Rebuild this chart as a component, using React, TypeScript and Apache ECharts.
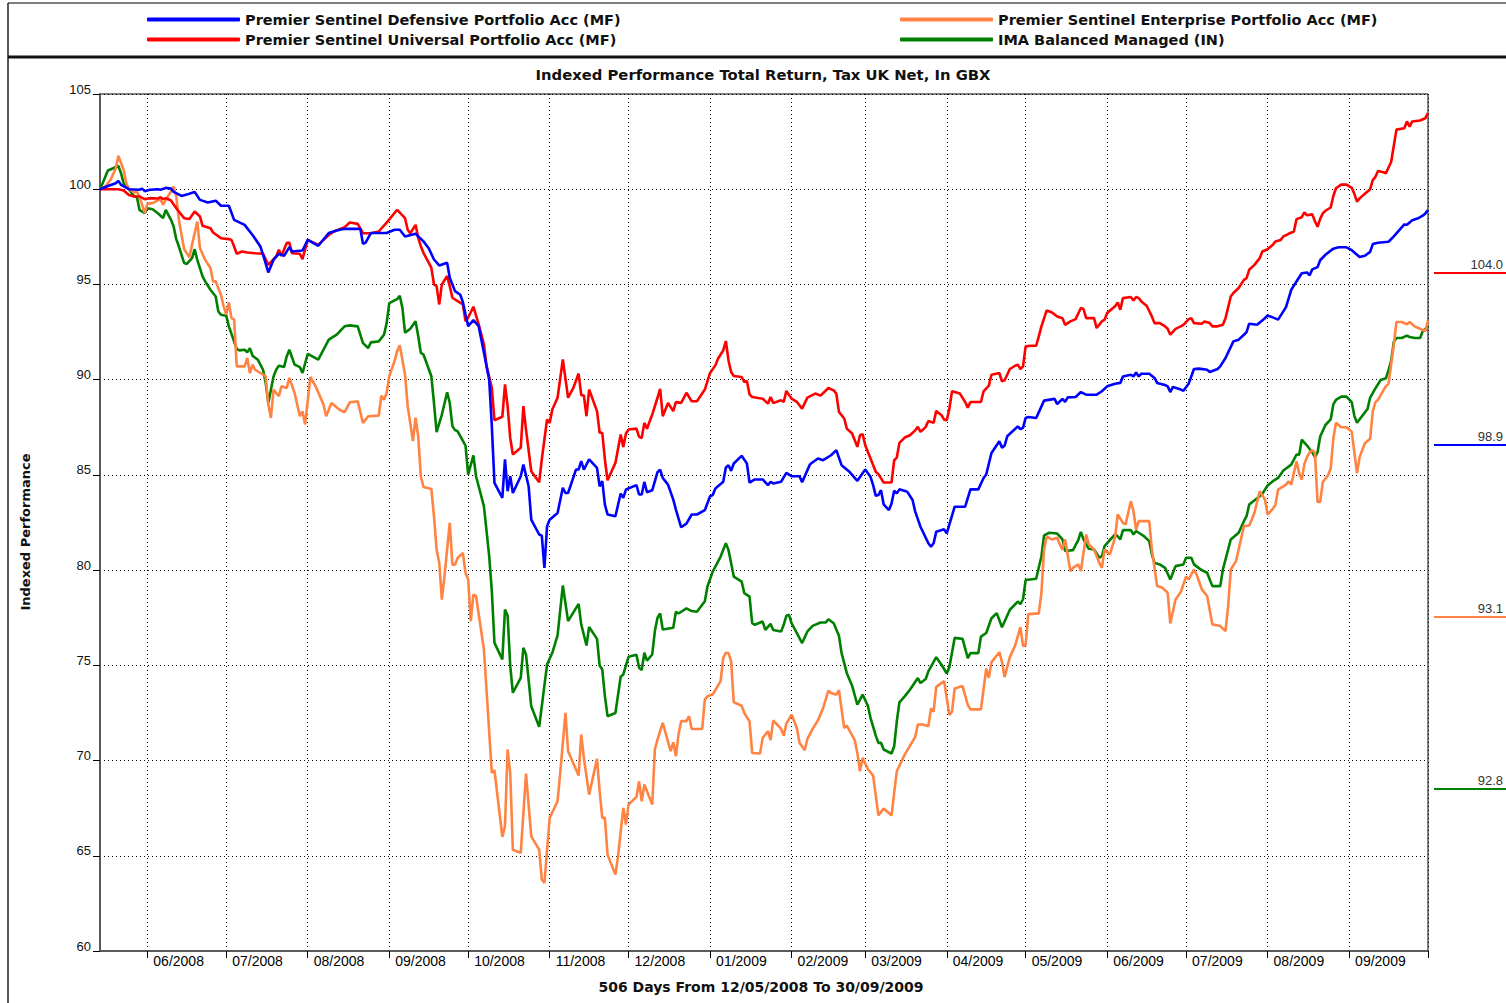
import React, { useEffect, useRef } from "react";
import * as echarts from "echarts";

// Day numbers are counted from 12/05/2008 (day 0).
const START_YEAR = 2008;
const START_MONTH = 4;
const START_DAY = 12;
const AXIS_FIRST_DAY = 2;
const AXIS_LAST_DAY = 507;
const Y_MIN = 60;
const Y_MAX = 105;
const Y_STEP = 5;

const TITLE = "Indexed Performance Total Return, Tax UK Net, In GBX";
const X_NAME = "506 Days From 12/05/2008 To 30/09/2009";
const Y_NAME = "Indexed Performance";

const NAME_DEFENSIVE = "Premier Sentinel Defensive Portfolio Acc (MF)";
const NAME_ENTERPRISE = "Premier Sentinel Enterprise Portfolio Acc (MF)";
const NAME_UNIVERSAL = "Premier Sentinel Universal Portfolio Acc (MF)";
const NAME_IMA = "IMA Balanced Managed (IN)";

const COLOR_DEFENSIVE = "#0000FF";
const COLOR_ENTERPRISE = "#FF8444";
const COLOR_UNIVERSAL = "#FF0000";
const COLOR_IMA = "#008000";

const defensive: [number, number][] = [[2,100.0],[5,100.17],[8,100.31],[9,100.44],[10,100.23],[13,100.0],[17,99.97],[18,100.03],[19,99.9],[21,99.97],[24,100.0],[25,99.97],[27,100.07],[29,100.03],[30,99.86],[33,99.65],[36,99.76],[38,99.86],[40,99.44],[43,99.3],[46,99.4],[48,99.13],[51,99.13],[53,98.39],[57,98.13],[60,97.6],[63,96.99],[64,96.56],[66,95.63],[68,96.3],[70,96.61],[72,96.5],[74,96.96],[75,96.73],[79,96.78],[81,97.34],[85,97.03],[89,97.7],[92,97.83],[95,97.92],[101,97.92],[102,97.13],[103,97.2],[105,97.7],[111,97.7],[114,97.87],[116,97.87],[118,97.52],[122,97.66],[125,97.26],[127,96.9],[129,96.31],[131,96.0],[134,96.14],[135,95.35],[137,94.65],[139,94.46],[140,94.07],[141,93.42],[142,92.81],[144,93.13],[146,92.81],[148,91.41],[150,90.0],[151,87.56],[152,84.58],[155,83.79],[156,85.81],[157,84.14],[158,84.93],[159,84.05],[162,84.93],[163,85.54],[165,84.4],[166,82.65],[169,81.87],[170,81.81],[171,80.11],[172,82.3],[173,82.65],[176,83.0],[178,84.32],[179,84.05],[180,84.05],[183,85.28],[184,85.28],[185,85.72],[186,85.28],[188,85.81],[191,85.37],[192,84.4],[193,84.67],[194,83.44],[195,82.92],[198,82.83],[200,84.02],[201,83.79],[202,84.23],[206,84.46],[207,83.97],[208,83.97],[209,84.63],[210,84.09],[212,84.19],[214,85.14],[215,85.28],[216,84.84],[218,84.49],[220,83.7],[221,83.18],[223,82.25],[225,82.44],[227,82.92],[229,82.92],[232,83.15],[234,83.88],[235,83.94],[236,84.29],[239,84.64],[240,85.39],[241,85.51],[242,85.21],[243,85.6],[246,86.0],[248,85.6],[249,84.59],[251,84.76],[254,84.76],[256,84.46],[257,84.64],[258,84.55],[261,84.64],[263,85.11],[265,84.93],[268,84.93],[269,84.62],[272,85.56],[275,85.86],[277,85.77],[280,86.03],[282,86.3],[284,85.51],[287,85.16],[290,84.69],[293,85.28],[295,84.9],[296,84.46],[297,83.9],[298,83.94],[299,84.2],[300,83.45],[302,83.15],[303,83.5],[304,84.17],[305,84.03],[306,84.24],[309,84.11],[311,83.68],[312,83.07],[314,82.28],[317,81.41],[318,81.23],[319,81.41],[320,82.02],[323,82.14],[324,81.93],[327,83.33],[331,83.33],[333,84.24],[336,84.24],[338,84.84],[339,85.02],[341,86.15],[344,86.77],[345,86.42],[346,86.54],[347,87.03],[351,87.55],[352,87.41],[353,87.47],[354,87.99],[355,88.04],[358,87.99],[361,88.9],[365,88.99],[366,88.72],[368,88.99],[369,88.83],[370,89.07],[373,89.09],[375,89.35],[377,89.21],[381,89.21],[383,89.39],[385,89.65],[388,89.79],[390,89.83],[391,90.17],[394,90.26],[395,90.17],[396,90.38],[397,90.17],[398,90.31],[401,90.31],[403,90.09],[404,89.83],[407,89.72],[408,89.65],[409,89.35],[410,89.62],[413,89.48],[414,89.42],[416,89.79],[418,90.56],[420,90.58],[423,90.52],[424,90.4],[427,90.56],[428,90.7],[430,91.14],[433,92.01],[435,92.1],[437,92.36],[438,92.5],[439,92.94],[442,92.88],[445,93.23],[446,93.37],[448,93.27],[450,93.15],[453,93.81],[455,94.72],[459,95.59],[461,95.63],[462,95.48],[463,95.79],[465,95.91],[466,96.27],[468,96.56],[471,96.88],[473,96.95],[476,96.95],[478,96.8],[481,96.44],[483,96.51],[485,96.71],[486,97.12],[488,97.19],[492,97.24],[494,97.52],[496,97.84],[498,98.15],[499,98.13],[501,98.37],[503,98.46],[505,98.61],[506,98.73],[507,98.9]];

const universal: [number, number][] = [[2,100],[5,100],[9,100],[11,99.93],[13,99.7],[15,99.62],[17,99.62],[19,99.48],[21,99.53],[24,99.51],[25,99.58],[26,99.48],[27,99.53],[29,99.41],[31,99.0],[34,98.48],[36,98.44],[38,98.83],[40,98.57],[41,98.08],[44,97.95],[45,97.73],[48,97.43],[51,97.38],[52,97.34],[53,96.99],[54,96.61],[56,96.73],[58,96.68],[61,96.64],[64,96.61],[66,96.03],[69,96.47],[70,96.82],[71,96.5],[73,97.17],[74,97.2],[75,96.64],[78,96.61],[79,96.33],[81,97.34],[85,97.08],[89,97.6],[91,97.78],[95,98.01],[97,98.25],[100,98.18],[102,97.69],[105,97.69],[108,97.78],[111,98.25],[115,98.92],[118,98.48],[119,97.87],[120,97.69],[122,98.13],[123,97.45],[124,97.01],[125,96.66],[128,95.88],[129,95.0],[130,94.91],[131,93.95],[132,95.0],[134,95.44],[135,94.91],[136,94.3],[138,94.12],[140,93.95],[141,93.07],[142,93.25],[144,93.83],[146,92.9],[148,91.85],[149,90.71],[151,89.57],[152,87.87],[155,88.05],[156,89.75],[157,88.61],[158,86.94],[159,86.07],[162,86.42],[163,88.61],[164,87.38],[166,85.19],[169,84.61],[170,85.81],[172,87.91],[173,87.73],[174,88.43],[176,89.05],[178,91.06],[180,89.05],[182,89.57],[184,90.32],[185,89.19],[186,89.17],[187,88.08],[188,89.48],[191,88.35],[192,87.21],[193,87.21],[194,85.81],[195,84.72],[198,85.63],[200,87.12],[201,86.47],[202,87.17],[203,87.38],[206,87.43],[207,87.0],[208,86.94],[209,87.73],[210,87.42],[212,88.17],[214,89.05],[215,89.52],[216,88.08],[218,88.78],[220,88.35],[221,88.82],[223,88.78],[225,89.31],[227,88.87],[229,88.87],[232,89.48],[233,89.92],[234,90.35],[236,90.75],[237,91.1],[239,91.54],[240,92.03],[241,91.01],[242,90.4],[243,90.19],[246,90.14],[247,89.88],[248,89.93],[249,89.23],[250,89.09],[254,89.0],[256,88.74],[257,89.09],[258,88.78],[261,88.92],[262,88.83],[263,89.41],[265,89.0],[267,88.83],[269,88.48],[271,89.06],[274,89.27],[276,89.16],[279,89.56],[281,89.44],[282,89.27],[283,88.31],[285,87.96],[286,87.43],[288,87.17],[290,86.47],[291,87.08],[292,87.14],[293,86.56],[295,85.86],[297,85.16],[298,85.04],[300,84.6],[303,84.6],[304,85.77],[305,85.91],[306,86.68],[308,86.96],[310,87.08],[312,87.34],[313,87.52],[314,87.26],[315,87.38],[316,87.52],[317,87.83],[319,87.73],[320,88.36],[322,88.13],[323,87.9],[324,87.87],[325,88.48],[326,89.39],[329,89.27],[331,88.83],[332,88.53],[333,88.83],[337,88.83],[338,89.39],[340,89.69],[341,90.26],[344,90.35],[345,89.91],[346,89.97],[348,90.56],[350,90.73],[351,90.79],[352,90.56],[353,90.7],[354,91.75],[356,91.78],[358,91.78],[359,92.27],[360,92.8],[362,93.64],[364,93.53],[366,93.32],[368,93.23],[369,92.88],[371,93.06],[373,93.18],[375,93.76],[376,93.71],[377,93.23],[380,93.23],[381,92.71],[383,93.06],[384,93.15],[385,93.5],[388,93.85],[389,94.06],[390,93.67],[391,94.28],[394,94.34],[395,94.16],[396,94.34],[397,94.28],[398,94.11],[400,93.88],[402,93.32],[403,92.97],[405,92.97],[407,92.8],[408,92.67],[409,92.36],[411,92.67],[413,92.8],[414,92.88],[416,93.18],[417,93.23],[418,92.97],[421,92.94],[422,93.06],[424,92.97],[425,92.8],[427,92.8],[429,92.88],[430,93.23],[432,94.37],[433,94.55],[435,94.81],[437,95.24],[438,95.33],[439,95.77],[441,96.03],[443,96.38],[444,96.73],[446,96.85],[448,97.08],[449,97.26],[451,97.34],[452,97.52],[454,97.66],[456,97.78],[457,98.43],[459,98.53],[460,98.78],[461,98.63],[463,98.68],[464,98.32],[465,98.03],[466,98.44],[467,98.73],[468,98.87],[470,99.04],[471,99.64],[472,100.05],[474,100.24],[476,100.24],[478,100.07],[479,99.76],[480,99.35],[481,99.52],[483,99.76],[485,100.0],[486,100.48],[487,100.65],[488,100.96],[490,100.89],[491,100.84],[493,101.44],[494,102.28],[495,103.13],[498,103.2],[499,103.56],[500,103.29],[501,103.56],[504,103.61],[506,103.73],[507,104.0]];

const enterprise: [number, number][] = [[2,100],[4,100.14],[6,100.49],[8,101.1],[9,101.75],[11,101.01],[12,100.31],[13,100.0],[15,99.83],[16,99.88],[17,99.62],[19,98.74],[20,99.23],[22,99.27],[24,99.41],[25,99.48],[26,99.18],[27,99.44],[29,99.88],[30,100.14],[31,99.62],[32,98.39],[34,96.85],[35,96.64],[36,96.43],[37,97.08],[39,98.3],[40,96.91],[42,96.29],[44,95.86],[45,95.16],[46,95.16],[48,94.46],[49,93.85],[50,93.41],[51,94.06],[52,93.23],[53,93.15],[54,90.7],[57,90.7],[58,91.14],[59,90.35],[60,90.79],[61,90.52],[63,90.35],[65,90.17],[66,88.69],[67,87.99],[68,89.48],[69,89.3],[70,89.13],[71,89.65],[73,89.56],[74,90.09],[76,89.3],[78,88.08],[79,88.34],[80,87.64],[82,90.14],[84,89.65],[87,88.69],[88,88.08],[90,88.78],[93,88.43],[95,88.29],[97,88.81],[100,88.86],[102,87.73],[104,88.08],[108,88.11],[109,89.16],[110,88.95],[111,89.3],[112,90.18],[114,90.97],[115,91.5],[116,91.8],[118,90.27],[119,88.61],[121,86.77],[122,88.0],[123,87.03],[124,84.93],[125,84.37],[128,84.26],[129,82.83],[130,81.08],[131,80.38],[132,78.45],[133,79.68],[135,82.48],[136,80.29],[137,80.29],[138,80.64],[140,80.9],[141,79.85],[142,79.51],[143,77.32],[144,78.72],[145,78.63],[148,75.83],[151,69.35],[152,69.49],[155,65.99],[156,66.55],[157,70.58],[158,69.35],[159,65.32],[162,65.15],[164,69.32],[166,66.02],[169,65.32],[170,63.75],[171,63.57],[173,66.99],[176,67.86],[177,69.35],[179,72.5],[180,70.49],[184,69.21],[185,71.37],[186,70.14],[188,68.21],[191,70.09],[192,68.39],[193,66.99],[194,66.99],[195,65.06],[198,64.01],[199,64.97],[201,67.51],[202,66.64],[203,67.69],[206,68.09],[207,68.91],[208,67.86],[209,68.74],[212,67.69],[213,70.58],[214,71.1],[216,71.98],[219,70.49],[220,70.96],[221,70.23],[222,71.37],[223,72.07],[225,72.07],[226,72.33],[227,71.66],[231,71.66],[232,73.2],[233,73.38],[235,73.47],[238,74.17],[239,75.39],[240,75.66],[241,75.64],[242,75.21],[243,73.06],[246,72.88],[247,72.5],[249,72.06],[250,70.4],[253,70.37],[254,71.19],[256,71.54],[257,71.07],[258,72.11],[261,71.66],[262,71.31],[263,71.94],[265,72.41],[267,71.71],[268,70.93],[270,70.54],[271,71.14],[273,71.66],[275,72.11],[277,72.76],[279,73.67],[280,73.55],[282,73.46],[283,73.69],[285,71.71],[286,71.83],[289,71.07],[290,70.4],[291,69.44],[292,70.14],[294,69.56],[296,69.21],[298,67.12],[300,67.48],[303,67.12],[304,68.31],[305,69.44],[308,70.31],[311,71.01],[312,71.24],[313,71.89],[315,71.89],[317,71.8],[318,72.74],[319,72.57],[320,73.87],[323,74.17],[324,73.26],[325,72.4],[326,72.57],[327,73.78],[330,73.91],[332,72.92],[333,72.69],[337,72.69],[339,74.83],[340,74.34],[341,75.17],[344,75.69],[345,75.17],[346,74.39],[348,75.43],[350,76.04],[352,77.0],[353,76.01],[354,76.08],[355,77.69],[359,77.73],[360,78.81],[361,81.08],[362,81.75],[364,81.61],[366,81.7],[367,81.35],[368,81.08],[369,81.61],[371,79.95],[372,80.12],[374,80.3],[375,79.95],[377,81.87],[378,81.35],[380,81.08],[382,80.38],[383,80.12],[384,81.08],[386,80.82],[388,81.7],[389,82.92],[391,82.48],[392,82.4],[394,83.62],[395,83.09],[396,82.13],[397,82.57],[401,82.57],[402,81.08],[404,79.16],[406,79.07],[408,78.81],[409,77.2],[411,78.46],[413,78.85],[414,79.25],[415,79.65],[416,79.51],[418,80.03],[419,79.77],[421,78.99],[423,78.64],[425,77.15],[428,77.06],[430,76.8],[431,78.11],[432,80.03],[434,80.47],[437,82.31],[439,82.34],[440,82.66],[441,83.01],[443,84.14],[445,83.71],[446,82.92],[448,83.22],[449,83.44],[450,84.23],[453,84.49],[454,84.67],[455,84.49],[457,85.72],[458,85.1],[459,84.74],[460,85.58],[461,85.94],[462,86.18],[463,86.3],[464,86.18],[465,83.58],[466,83.58],[467,84.62],[469,84.98],[470,85.34],[471,86.9],[472,87.74],[473,87.62],[474,87.5],[476,87.5],[478,87.26],[479,86.18],[480,85.1],[481,85.94],[482,86.3],[483,86.66],[485,86.9],[486,88.34],[487,88.82],[488,88.94],[490,89.42],[491,89.66],[492,89.78],[494,91.83],[495,93.03],[497,93.03],[499,92.91],[500,93.03],[502,92.79],[504,92.67],[506,92.55],[507,93.1]];

const imaBalanced: [number, number][] = [[2,100],[3,100.31],[5,100.98],[7,101.1],[9,101.22],[10,100.84],[11,100.31],[13,100.0],[15,99.62],[16,99.62],[17,98.92],[19,98.74],[20,99.0],[22,98.95],[24,98.74],[26,98.48],[27,98.92],[29,98.39],[30,98.04],[31,97.38],[32,96.99],[34,96.12],[35,96.08],[37,96.38],[38,96.85],[39,96.29],[41,95.42],[42,95.16],[44,94.72],[46,94.37],[47,93.58],[48,93.41],[50,93.36],[51,92.8],[53,92.01],[54,91.61],[55,91.54],[57,91.57],[58,91.43],[59,91.66],[60,91.26],[62,91.05],[64,90.52],[65,89.83],[66,88.78],[68,90.17],[69,90.52],[70,90.73],[72,90.66],[73,91.22],[74,91.57],[76,90.79],[78,90.66],[79,90.35],[81,91.36],[85,91.05],[89,92.1],[92,92.36],[95,92.8],[97,92.85],[100,92.8],[102,91.92],[104,91.66],[105,91.96],[108,92.01],[110,92.36],[111,92.97],[112,94.02],[115,94.23],[116,94.41],[117,93.77],[118,92.46],[120,92.67],[122,93.07],[123,92.29],[124,91.41],[125,91.32],[128,90.18],[129,88.78],[130,87.24],[132,88.17],[134,89.34],[135,88.78],[136,87.56],[137,87.35],[138,87.29],[141,86.54],[142,85.02],[144,86.02],[145,84.93],[148,83.35],[150,80.73],[151,78.9],[152,76.18],[155,75.31],[156,77.93],[157,77.62],[158,74.96],[159,73.56],[162,74.34],[163,75.92],[164,75.57],[166,72.85],[169,71.77],[170,72.85],[172,75.04],[174,75.66],[176,76.57],[178,79.19],[180,77.32],[184,78.23],[185,77.15],[187,76.04],[188,77.01],[191,76.39],[192,74.99],[193,74.78],[194,73.38],[195,72.33],[198,72.5],[200,74.4],[201,74.52],[203,75.45],[206,75.55],[207,74.87],[208,74.75],[209,75.66],[210,75.25],[212,75.57],[213,76.8],[214,77.5],[215,77.72],[216,76.88],[220,76.97],[221,77.81],[222,77.72],[225,77.99],[227,77.85],[229,77.81],[232,78.37],[233,79.14],[235,79.92],[236,80.18],[238,80.71],[240,81.41],[241,81.06],[243,79.66],[246,79.4],[247,78.79],[249,78.61],[250,77.21],[251,77.13],[254,77.3],[255,76.86],[257,77.18],[258,76.86],[261,76.78],[262,77.13],[263,77.6],[264,77.65],[265,77.21],[267,76.69],[269,76.17],[271,76.78],[273,77.07],[276,77.25],[278,77.25],[279,77.42],[281,77.21],[283,76.55],[284,75.64],[286,74.59],[288,73.93],[290,72.93],[292,73.46],[294,72.88],[295,72.24],[297,71.31],[298,70.93],[299,70.93],[300,70.58],[303,70.37],[304,70.75],[305,72.06],[306,73.06],[308,73.37],[310,73.72],[313,74.33],[314,74.07],[316,74.28],[317,74.68],[320,75.43],[322,75.03],[324,74.57],[325,74.91],[327,76.44],[330,76.39],[332,75.38],[333,75.64],[336,75.64],[337,76.51],[339,76.7],[341,77.47],[343,77.74],[345,77.0],[348,77.92],[351,78.35],[352,78.21],[353,78.47],[354,79.48],[358,79.55],[360,80.73],[361,81.82],[363,81.96],[366,81.92],[368,81.61],[369,81.0],[372,81.05],[374,81.57],[375,82.01],[376,81.61],[378,81.12],[380,81.08],[382,80.65],[383,80.73],[384,81.26],[386,81.57],[388,81.87],[389,81.78],[390,81.61],[391,82.1],[394,82.1],[395,81.87],[396,82.05],[397,81.96],[399,81.78],[401,81.52],[402,80.82],[403,80.38],[405,80.3],[407,80.12],[409,79.51],[411,80.21],[414,80.3],[415,80.65],[417,80.65],[418,80.3],[420,80.09],[421,80.0],[423,79.86],[425,79.16],[428,79.16],[429,80.03],[432,81.61],[435,81.96],[437,82.57],[438,82.83],[439,83.44],[443,83.88],[444,84.0],[446,84.44],[448,84.67],[450,84.84],[452,85.23],[455,85.54],[457,86.07],[458,86.06],[459,86.85],[461,86.54],[463,86.18],[464,85.94],[465,86.18],[466,87.02],[468,87.62],[470,87.91],[471,88.7],[472,88.94],[474,89.11],[476,89.11],[478,88.82],[479,88.1],[480,87.74],[482,88.1],[484,88.46],[485,89.06],[487,89.54],[489,89.98],[491,90.07],[492,90.5],[493,90.99],[494,91.99],[495,92.19],[497,92.19],[499,92.31],[500,92.24],[502,92.19],[504,92.19],[505,92.55],[507,92.8]];

const dayToTime = (d: number) => new Date(START_YEAR, START_MONTH, START_DAY + d).getTime();

const SERIES = [
  { name: NAME_IMA, color: COLOR_IMA, data: imaBalanced },
  { name: NAME_ENTERPRISE, color: COLOR_ENTERPRISE, data: enterprise },
  { name: NAME_UNIVERSAL, color: COLOR_UNIVERSAL, data: universal },
  { name: NAME_DEFENSIVE, color: COLOR_DEFENSIVE, data: defensive },
];

const BOLD_FONT = '"DejaVu Sans", "Liberation Sans", Arial, sans-serif';
const PLAIN_FONT = '"Liberation Sans", Arial, Helvetica, sans-serif';

export default function App() {
  const ref = useRef<HTMLDivElement>(null);

  useEffect(() => {
    if (!ref.current) return;
    const chart = echarts.init(ref.current, null, { renderer: "svg" });
    const axisMin = dayToTime(AXIS_FIRST_DAY);
    const axisMax = dayToTime(AXIS_LAST_DAY);
    const DAY_MS = 86400000;

    const finals = SERIES.map((s) => ({
      color: s.color,
      last: s.data[s.data.length - 1][1],
    })).sort((a, b) => b.last - a.last);

    const endLabels: any[] = [];
    finals.forEach((f, i) => {
      const y = 273 + i * 172;
      endLabels.push({
        type: "line",
        silent: true,
        shape: { x1: 1434, y1: y, x2: 1506, y2: y },
        style: { stroke: f.color, lineWidth: 2 },
      });
      endLabels.push({
        type: "text",
        silent: true,
        x: 1503,
        y: y - 9,
        style: {
          text: f.last.toFixed(1),
          fill: "#333",
          font: `13px ${PLAIN_FONT}`,
          align: "right",
          verticalAlign: "middle",
        },
      });
    });

    const legendText = {
      fontFamily: BOLD_FONT,
      fontWeight: "bold",
      fontSize: 14.5,
      color: "#111",
      lineHeight: 17,
    };

    chart.setOption({
      animation: false,
      backgroundColor: "#ffffff",
      grid: {
        left: 100,
        top: 94,
        width: 1328,
        height: 857,
        show: true,
        borderColor: "#000",
        borderWidth: 1,
        backgroundColor: "transparent",
        containLabel: false,
        outerBoundsMode: "none",
      },
      legend: [
        {
          left: 147,
          top: 11,
          padding: 0,
          orient: "vertical",
          icon: "roundRect",
          itemWidth: 93,
          itemHeight: 4,
          itemGap: 3,
          selectedMode: false,
          data: [NAME_DEFENSIVE, NAME_UNIVERSAL],
          textStyle: legendText,
        },
        {
          left: 900,
          top: 11,
          padding: 0,
          orient: "vertical",
          icon: "roundRect",
          itemWidth: 93,
          itemHeight: 4,
          itemGap: 3,
          selectedMode: false,
          data: [NAME_ENTERPRISE, NAME_IMA],
          textStyle: legendText,
        },
      ],
      xAxis: {
        type: "time",
        min: axisMin,
        max: axisMax,
        splitNumber: 17,
        minInterval: 28 * DAY_MS,
        maxInterval: 31 * DAY_MS,
        axisLine: { show: true, lineStyle: { color: "#5a5a5a", width: 2 } },
        axisTick: { show: true, length: 7, lineStyle: { color: "#000", width: 1 } },
        axisLabel: {
          show: true,
          align: "left",
          padding: [0, 0, 0, 6],
          margin: 3,
          fontSize: 14,
          fontFamily: PLAIN_FONT,
          color: "#000",
          hideOverlap: false,
          formatter: (v: number) => {
            if (v <= axisMin + DAY_MS / 2 || v >= axisMax - DAY_MS / 2) return "";
            const d = new Date(v);
            return `${String(d.getMonth() + 1).padStart(2, "0")}/${d.getFullYear()}`;
          },
        },
        splitLine: { show: true, lineStyle: { type: [1, 3], color: "#000", width: 1 } },
      },
      yAxis: {
        type: "value",
        min: Y_MIN,
        max: Y_MAX,
        interval: Y_STEP,
        axisLine: { show: true, lineStyle: { color: "#5a5a5a", width: 2 } },
        axisTick: { show: true, length: 7, lineStyle: { color: "#000", width: 1 } },
        axisLabel: {
          fontSize: 13,
          fontFamily: PLAIN_FONT,
          color: "#111",
          margin: 9,
          verticalAlign: "bottom",
          lineHeight: 10,
        },
        splitLine: { show: true, lineStyle: { type: [1, 3], color: "#000", width: 1 } },
      },
      series: SERIES.map((s) => ({
        type: "line",
        name: s.name,
        data: s.data.map(([d, v]) => [dayToTime(d), v]),
        showSymbol: false,
        symbol: "none",
        smooth: false,
        color: s.color,
        lineStyle: { color: s.color, width: 2.6 },
        itemStyle: { color: s.color },
        emphasis: { disabled: true },
      })),
      graphic: {
        elements: [
          { type: "line", silent: true, shape: { x1: 8, y1: 3, x2: 1506, y2: 3 }, style: { stroke: "#555", lineWidth: 1.5 } },
          { type: "line", silent: true, shape: { x1: 8, y1: 3, x2: 8, y2: 1003 }, style: { stroke: "#222", lineWidth: 1.5 } },
          { type: "line", silent: true, shape: { x1: 8, y1: 57, x2: 1506, y2: 57 }, style: { stroke: "#111", lineWidth: 3 } },
          {
            type: "text",
            silent: true,
            x: 763,
            y: 74,
            style: { text: TITLE, font: `bold 14.8px ${BOLD_FONT}`, fill: "#111", align: "center", verticalAlign: "middle" },
          },
          {
            type: "text",
            silent: true,
            x: 761,
            y: 987,
            style: { text: X_NAME, font: `bold 14px ${BOLD_FONT}`, fill: "#111", align: "center", verticalAlign: "middle" },
          },
          {
            type: "text",
            silent: true,
            x: 25,
            y: 532,
            rotation: Math.PI / 2,
            style: { text: Y_NAME, font: `bold 13px ${BOLD_FONT}`, fill: "#111", align: "center", verticalAlign: "middle" },
          },
          ...endLabels,
        ],
      },
    });

    return () => chart.dispose();
  }, []);

  return (
    <div
      ref={ref}
      style={{ position: "fixed", left: 0, top: 0, width: 1506, height: 1003, background: "#fff" }}
    />
  );
}
